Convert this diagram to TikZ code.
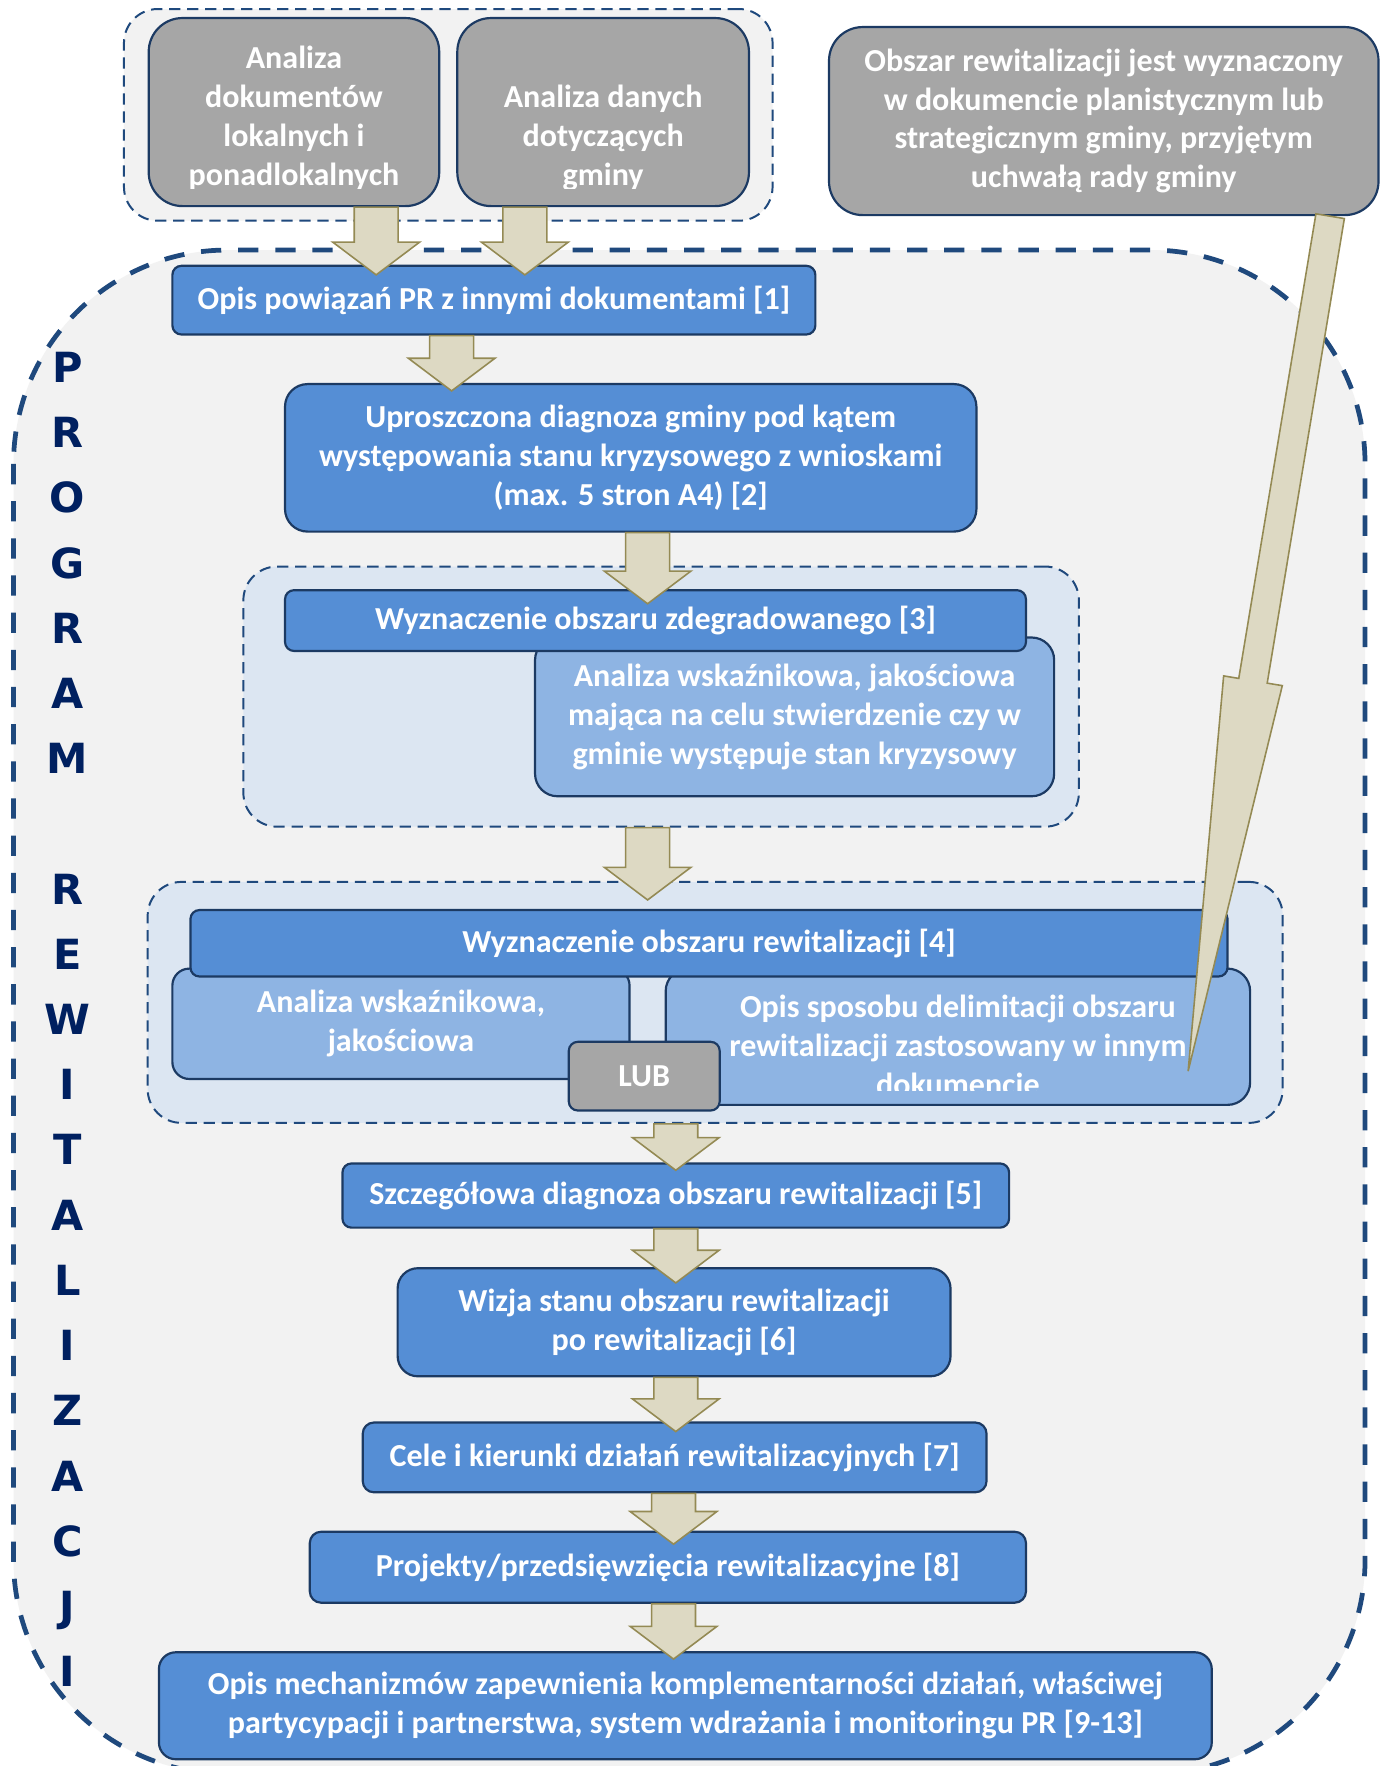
\documentclass[tikz,border=0pt]{standalone}
\usepackage{fontspec}
\setmainfont{Carlito}
\newfontfamily\vertfont{DejaVu Sans}
\usepackage{tikz}
\usetikzlibrary{calc}
\definecolor{boxline}{HTML}{1C3A63}
\definecolor{dashline}{HTML}{1F497D}
\definecolor{boxblue}{HTML}{558ED5}
\definecolor{boxlight}{HTML}{8EB4E3}
\definecolor{boxgrey}{HTML}{A6A6A6}
\definecolor{grpfill}{HTML}{DCE6F2}
\definecolor{regfill}{HTML}{F2F2F2}
\definecolor{arrfill}{HTML}{DDD9C3}
\definecolor{arrline}{HTML}{948A54}
\definecolor{letternavy}{HTML}{002060}
\newcommand{\boxfont}{\bfseries\fontsize{16.2}{19.6}\selectfont}
\tikzstyle{boxtext} = [text=white, font=\boxfont, align=center, inner sep=0pt]
\tikzstyle{bluebox} = [boxtext, draw=boxline, line width=1.1pt, fill=boxblue, rounded corners=0.16cm]
\tikzstyle{lightbox} = [bluebox, fill=boxlight, rounded corners=0.4cm]
\tikzstyle{greybox} = [bluebox, fill=boxgrey, rounded corners=0.6cm]
\tikzstyle{dashgroup} = [draw=dashline, line width=1pt, dash pattern=on 0.2cm off 0.12cm, fill=grpfill, rounded corners=0.6cm]
\tikzstyle{progregion} = [draw=dashline, line width=2.4pt, dash pattern=on 0.36cm off 0.3cm, fill=regfill, rounded corners=3.8cm]
\tikzstyle{barrow} = [draw=arrline, line width=0.8pt, fill=arrfill, line join=miter]
\tikzstyle{letter} = [text=letternavy, font=\vertfont\bfseries\fontsize{21}{21}\selectfont, inner sep=0pt, text height=15.4pt, text depth=0pt]
\newcommand{\blockarrow}[2]{%
	\draw[barrow] let \p1 = #1, \p2 = #2 in
		(\x1-0.39cm,\y1) -- (\x1+0.39cm,\y1) -- (\x1+0.39cm,\y2+0.58cm) -- (\x1+0.77cm,\y2+0.58cm)
		-- (\x1,\y2) -- (\x1-0.77cm,\y2+0.58cm) -- (\x1-0.39cm,\y2+0.58cm) -- cycle;
}

\begin{document}
\begin{tikzpicture}[x=0.02cm, y=-0.02cm]
	\fill[white] (0,0) rectangle (1231,1568);
	\useasboundingbox (0,0) rectangle (1231,1568);
	\draw[progregion] (12,222) rectangle (1212,1575);
	\foreach \c [count=\i from 0] in {P,R,O,G,R,A,M}
		\node[letter] (prog\i) at (60,{326+57.9*\i}) {\c};
	\foreach \c [count=\i from 8] in {R,E,W,I,T,A,L,I,Z,A,C,J,I}
		\node[letter] (rew\i) at (60,{326+57.9*\i}) {\c};

	\node[dashgroup, fill=regfill, minimum width=11.52cm, minimum height=3.76cm] (grpTop) at (398,102) {};
	\node[greybox, minimum width=5.16cm, minimum height=3.34cm] (dokA) at (261,99.5) {};
	\node[greybox, minimum width=5.18cm, minimum height=3.34cm] (dokB) at (535.5,99.5) {};
	\begin{scope}
		\clip (dokA.north west) rectangle ($(dokB.south east)+(0,-17)$);
		\node[boxtext] (dokAtext) at (261,105) {Analiza\\dokumentów\\lokalnych i\\ponadlokalnych};
		\node[boxtext] (dokBtext) at (535.5,122.5) {Analiza danych\\dotyczących\\gminy};
	\end{scope}
	\node[greybox, minimum width=9.76cm, minimum height=3.34cm] (uchwala) at (980,107.5) {Obszar rewitalizacji jest wyznaczony\\w dokumencie planistycznym lub\\strategicznym gminy, przyjętym\\uchwałą rady gminy};

	\node[bluebox, minimum width=11.42cm, minimum height=1.22cm] (opis1) at (438.5,266.5) {Opis powiązań PR z innymi dokumentami [1]};
	\node[bluebox, rounded corners=0.4cm, minimum width=12.28cm, minimum height=2.62cm] (diag2) at (560,406.5) {Uproszczona diagnoza gminy pod kątem\\występowania stanu kryzysowego z wnioskami\\(max. 5 stron A4) [2]};

	\node[dashgroup, minimum width=14.84cm, minimum height=4.62cm] (grpDeg) at (587,618.5) {};
	\node[lightbox, minimum width=9.22cm, minimum height=2.82cm] (anaDeg) at (705.5,636.5) {Analiza wskaźnikowa, jakościowa\\mająca na celu stwierdzenie czy w\\gminie występuje stan kryzysowy};
	\node[bluebox, minimum width=13.16cm, minimum height=1.08cm] (zdeg3) at (582,551) {Wyznaczenie obszaru zdegradowanego [3]};

	\node[dashgroup, minimum width=20.16cm, minimum height=4.28cm] (grpRew) at (635,890) {};
	\node[lightbox, rounded corners=0.3cm, minimum width=8.12cm, minimum height=1.96cm] (anaRew) at (356,909) {Analiza wskaźnikowa,\\jakościowa};
	\node[lightbox, minimum width=10.38cm, minimum height=2.42cm] (opisRew) at (850.5,920.5) {};
	\begin{scope}
		\clip (opisRew.north west) rectangle ($(opisRew.south east)+(0,-14)$);
		\node[boxtext] (opisRewtext) at (850.5,928) {Opis sposobu delimitacji obszaru\\rewitalizacji zastosowany w innym\\dokumencie};
	\end{scope}
	\node[bluebox, minimum width=18.42cm, minimum height=1.18cm] (rew4) at (629.5,837.5) {Wyznaczenie obszaru rewitalizacji [4]};
	\node[greybox, rounded corners=0.16cm, minimum width=2.68cm, minimum height=1.22cm] (lub) at (572,955.5) {LUB};

	\node[bluebox, minimum width=11.84cm, minimum height=1.14cm] (diag5) at (600,1061.5) {Szczegółowa diagnoza obszaru rewitalizacji [5]};
	\node[bluebox, rounded corners=0.36cm, minimum width=9.82cm, minimum height=1.92cm] (wizja6) at (598.5,1174) {Wizja stanu obszaru rewitalizacji\\po rewitalizacji [6]};
	\node[bluebox, rounded corners=0.2cm, minimum width=11.08cm, minimum height=1.24cm] (cele7) at (599,1294) {Cele i kierunki działań rewitalizacyjnych [7]};
	\node[bluebox, rounded corners=0.2cm, minimum width=12.72cm, minimum height=1.26cm] (proj8) at (593,1391.5) {Projekty/przedsięwzięcia rewitalizacyjne [8]};
	\node[bluebox, rounded corners=0.3cm, minimum width=18.7cm, minimum height=1.9cm] (mech9) at (608.5,1514.5) {Opis mechanizmów zapewnienia komplementarności działań, właściwej\\partycypacji i partnerstwa, system wdrażania i monitoringu PR [9-13]};

	\blockarrow{($(dokA.south)+(73,0)$)}{($(opis1.north)+(-104.5,9)$)}
	\blockarrow{($(dokB.south)+(-69.5,0)$)}{($(opis1.north)+(27.5,9)$)}
	\blockarrow{($(opis1.south)+(-37.5,0)$)}{($(diag2.north)+(-159,7)$)}
	\blockarrow{($(diag2.south)+(15,0)$)}{($(zdeg3.north)+(-7,13)$)}
	\blockarrow{($(grpDeg.south)+(-12,0)$)}{($(rew4.north)+(-54.5,-8)$)}
	\blockarrow{($(grpRew.south)+(-35,0)$)}{($(diag5.north)+(0,7)$)}
	\blockarrow{(diag5.south)}{($(wizja6.north)+(1.5,14)$)}
	\blockarrow{($(wizja6.south)+(1.5,0)$)}{($(cele7.north)+(1,9)$)}
	\blockarrow{($(cele7.south)+(-1,0)$)}{($(proj8.north)+(5,12)$)}
	\blockarrow{($(proj8.south)+(5,0)$)}{($(mech9.north)+(-10.5,7)$)}

	\coordinate (bigtail) at ($(uchwala.south)+(201,0)$);
	\coordinate (bigtip) at ($(opisRew.north east)+(-56,92)$);
	\coordinate (bighead) at ($(bigtail)!0.5434!(bigtip)$);
	\draw[barrow] ($(bigtail)!0.256cm!-90:(bigtip)$) -- ($(bighead)!0.256cm!90:(bigtail)$)
		-- ($(bighead)!0.528cm!90:(bigtail)$) -- (bigtip) -- ($(bighead)!0.528cm!-90:(bigtail)$)
		-- ($(bighead)!0.256cm!-90:(bigtail)$) -- ($(bigtail)!0.256cm!90:(bigtip)$) -- cycle;
\end{tikzpicture}
\end{document}
